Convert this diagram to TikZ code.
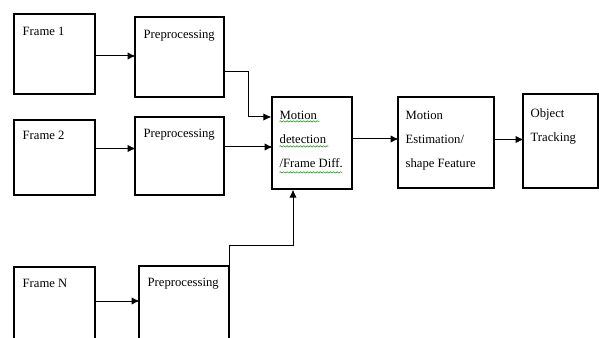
\documentclass[tikz,border=0pt]{standalone}
\usepackage{fontspec}
\setmainfont{Liberation Serif}
\usetikzlibrary{calc,positioning,arrows.meta,decorations.pathmorphing}

\begin{document}
\begin{tikzpicture}[x=0.75pt,y=-0.75pt,
  wh/.style 2 args={minimum width=#1*0.75pt, minimum height=#2*0.75pt},
  box/.style={draw, line width=0.9pt, inner sep=0pt},
  txt/.style={anchor=north west, inner sep=0pt, align=left, font=\fontsize{9.5}{18}\selectfont},
  conn/.style={draw, line width=0.75pt, -{Latex[length=6pt, width=5.5pt]}},
  spell/.style={draw=green!60!black, line width=0.4pt, decorate, decoration={snake, amplitude=0.5pt, segment length=2.5pt}}]
\useasboundingbox (0,0) rectangle (599,338);
\clip (0,0) rectangle (599,338);

\node[box, wh={81}{80}] (f1) at (54.5,54) {};
\node[box, wh={89}{80}] (p1) at (179.5,57) {};
\node[box, wh={81}{75}] (f2) at (54.5,157.5) {};
\node[box, wh={89}{78}] (p2) at (179.5,156) {};
\node[box, wh={81}{78}] (fN) at (54.5,306) {};
\node[box, wh={90}{79}] (pN) at (184,305.5) {};
\node[box, wh={80}{92}] (md) at (312,143) {};
\node[box, wh={96}{91}] (me) at (446,142.5) {};
\node[box, wh={75}{94}] (ot) at (560.5,141) {};

\node[txt] (f1t) at ($(f1.north west)+(9,13)$) {Frame 1};
\node[txt] (p1t) at ($(p1.north west)+(9,13)$) {Preprocessing};
\node[txt] (f2t) at ($(f2.north west)+(9,11)$) {Frame 2};
\node[txt] (p2t) at ($(p2.north west)+(9,12)$) {Preprocessing};
\node[txt] (fNt) at ($(fN.north west)+(9,13)$) {Frame N};
\node[txt] (pNt) at ($(pN.north west)+(9,12)$) {Preprocessing};
\node[txt] (mdt) at ($(md.north west)+(8,14)$) {Motion\\detection\\/Frame Diff.};
\node[txt] (met) at ($(me.north west)+(8,14)$) {Motion\\Estimation/\\shape Feature};
\node[txt] (ott) at ($(ot.north west)+(8,15)$) {Object\\Tracking};

\foreach \w/\dy in {40/25, 49/50, 63/76}
  \draw[spell] ($(md.north west)+(8,\dy)$) -- ++(\w,0);

\draw[conn] ($(f1.east)+(0,2)$) -- ++(40,0);
\draw[conn] ($(f2.east)+(0,-9)$) -- ++(40,0);
\draw[conn] ($(fN.east)+(0,-5)$) -- ++(44,0);
\draw[conn] ($(p1.east)+(0,15)$) -- ++(24,0) |- ($(md.west)+(0,-26)$);
\draw[conn] ($(p2.east)+(0,-9)$) -- ++(48,0);
\draw[conn] (pN.north east) -- ++(0,-20) -| ($(md.south)+(-19,0)$);
\draw[conn] ($(md.east)+(0,-4)$) -- ++(46,0);
\draw[conn] ($(me.east)+(0,-3)$) -- ++(29,0);
\end{tikzpicture}
\end{document}
